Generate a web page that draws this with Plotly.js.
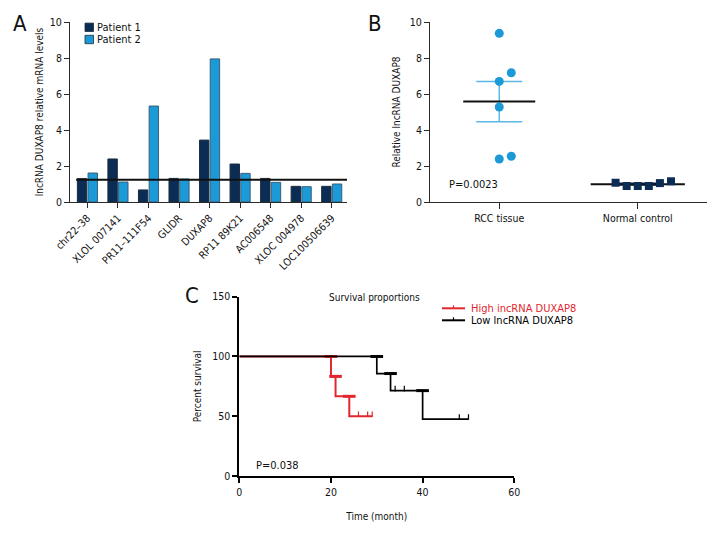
<!DOCTYPE html>
<html>
<head>
<meta charset="utf-8">
<script src="https://cdn.plot.ly/plotly-3.0.1.min.js"></script>
<style>html,body{margin:0;padding:0;background:#fff;}#chart{width:720px;height:540px;}</style>
</head>
<body>
<div id="chart"></div>
<script>
// ---------- Panel A data ----------
const genes = ['chr22–38','XLOL 007141','PR11–111F54','GLIDR','DUXAP8','RP11 89K21','AC006548','XLOC 004978','LOC100506639'];
const patient1 = [1.3, 2.39, 0.67, 1.31, 3.44, 2.11, 1.31, 0.87, 0.87];
const patient2 = [1.61, 1.11, 5.33, 1.28, 7.95, 1.59, 1.09, 0.85, 1.0];
const thresholdA = [1.24];
const seriesNamesA = ['Patient 1', 'Patient 2'];

// ---------- Panel B data ----------
const groupsB = ['RCC tissue', 'Normal control'];
const rccVals = [9.37, 7.18, 6.7, 5.28, 2.39, 2.54];
const rccJitter = [0, 0.087, 0, 0, 0, 0.087];
const normalVals = [1.07, 0.89, 0.89, 0.89, 1.05, 1.15];
const normalJitter = [-0.16, -0.08, 0, 0.08, 0.16, 0.24];
const pTextB = 'P=0.0023';

// ---------- Panel C data ----------
const highTimes = [20, 21, 24, 26, 28, 29];
const highEvents = [1, 1, 1, 0, 0, 0];
const lowTimes = [30, 33, 34, 36, 40, 48, 50];
const lowEvents = [1, 1, 0, 0, 1, 0, 0];
const survNames = ['High incRNA DUXAP8', 'Low lncRNA DUXAP8'];
const pTextC = 'P=0.038';

// ---------- styles ----------
const FONT = "'DejaVu Sans Condensed', 'Liberation Sans Narrow', sans-serif";
const DARK = '#0b2c54';
const LIGHT = '#1b9ad7';
const ERRC = '#5cb8e6';
const RED = '#e3262d';
const AX = '#2a2a2a';
const colorsA = [DARK, LIGHT];
const colorsC = [RED, '#000'];

function kaplanMeier(times, events) {
  const idx = times.map((t, i) => i).sort((a, b) => times[a] - times[b]);
  let atRisk = times.length, s = 100;
  const xs = [0], ys = [100], cx = [], cy = [], ex = [], ey = [];
  idx.forEach(i => {
    if (events[i]) {
      ex.push(times[i]); ey.push(s);
      s = s * (atRisk - 1) / atRisk;
      xs.push(times[i]); ys.push(s);
    } else {
      cx.push(times[i]); cy.push(s);
    }
    atRisk -= 1;
  });
  const last = Math.max(...times);
  if (xs[xs.length - 1] < last) { xs.push(last); ys.push(s); }
  return {xs, ys, cx, cy, ex, ey};
}
function mean(a) { return a.reduce((p, c) => p + c, 0) / a.length; }
function sem(a) {
  const m = mean(a);
  const v = a.reduce((p, c) => p + (c - m) * (c - m), 0) / (a.length - 1);
  return Math.sqrt(v) / Math.sqrt(a.length);
}

const traces = [];
// Panel A bars
traces.push({type: 'bar', x: genes, y: patient1, name: seriesNamesA[0], xaxis: 'x', yaxis: 'y', showlegend: false,
  marker: {color: DARK, line: {color: '#1c2c3c', width: 1}}});
traces.push({type: 'bar', x: genes, y: patient2, name: seriesNamesA[1], xaxis: 'x', yaxis: 'y', showlegend: false,
  marker: {color: LIGHT, line: {color: '#3a5f78', width: 1}}});

// Panel B
const bGroups = [rccVals, normalVals];
const bHalf = [0.26, 0.34];
bGroups.forEach((vals, g) => {
  const m = mean(vals), se = sem(vals);
  traces.push({type: 'scatter', mode: 'markers', x: [g], y: [m], xaxis: 'x2', yaxis: 'y2', showlegend: false,
    marker: {size: 1, opacity: 0}, hoverinfo: 'skip',
    error_y: {type: 'data', array: [se], visible: true, color: g === 0 ? ERRC : DARK, thickness: 1.5, width: 23}});
  traces.push({type: 'scatter', mode: 'markers', x: [g], y: [m], xaxis: 'x2', yaxis: 'y2', showlegend: false,
    marker: {size: 1, opacity: 0}, hoverinfo: 'skip',
    error_x: {type: 'constant', value: bHalf[g], visible: true, color: '#111', thickness: 2, width: 0}});
});
traces.push({type: 'scatter', mode: 'markers', x: rccVals.map((v, i) => 0 + rccJitter[i]), y: rccVals,
  xaxis: 'x2', yaxis: 'y2', showlegend: false, marker: {symbol: 'circle', size: 9, color: LIGHT}});
traces.push({type: 'scatter', mode: 'markers', x: normalVals.map((v, i) => 1 + normalJitter[i]), y: normalVals,
  xaxis: 'x2', yaxis: 'y2', showlegend: false, marker: {symbol: 'square', size: 8, color: DARK}});

// Panel C
const kmHigh = kaplanMeier(highTimes, highEvents);
const kmLow = kaplanMeier(lowTimes, lowEvents);
[[kmHigh, RED, 0, 2], [kmLow, '#000', 1, 1.7]].forEach(([km, col, k, w]) => {
  traces.push({type: 'scatter', mode: 'lines', x: km.xs, y: km.ys, xaxis: 'x3', yaxis: 'y3', showlegend: false,
    name: survNames[k], line: {shape: 'hv', color: col, width: w}});
  traces.push({type: 'scatter', mode: 'markers', x: km.ex, y: km.ey, xaxis: 'x3', yaxis: 'y3', showlegend: false,
    marker: {symbol: 'line-ew', size: 9, line: {color: col, width: 3}}, cliponaxis: false});
  traces.push({type: 'scatter', mode: 'markers', x: km.cx, y: km.cy.map(v => v + 1.7), xaxis: 'x3', yaxis: 'y3', showlegend: false,
    marker: {symbol: 'line-ns', size: 4, line: {color: col, width: 1.2}}});
});

const tickFont = {family: FONT, size: 10.5, color: '#111'};
const titleFont = {family: FONT, size: 10, color: '#111'};
const baseAxis = {showgrid: false, zeroline: false, showline: true, linecolor: AX, linewidth: 1,
  ticks: 'outside', ticklen: 5, tickwidth: 1, tickcolor: AX, tickfont: tickFont, fixedrange: true};

// manual legends (paper coordinates)
const shapes = [
  {type: 'line', xref: 'x domain', yref: 'y', x0: 0.022, x1: 1, y0: thresholdA[0], y1: thresholdA[0],
    line: {color: '#111', width: 2}}
];
const annotations = [];
const P = (px) => px / 720, Q = (py) => 1 - py / 540;
const legAy = [27.3, 39.5];
seriesNamesA.forEach((nm, i) => {
  shapes.push({type: 'rect', xref: 'paper', yref: 'paper', x0: P(85), x1: P(93.5), y0: Q(legAy[i] + 4.2), y1: Q(legAy[i] - 4.2),
    fillcolor: colorsA[i], line: {color: '#1c2c3c', width: 0.8}});
  annotations.push({text: nm, xref: 'paper', yref: 'paper', x: P(95), y: Q(legAy[i]), xanchor: 'left', yanchor: 'middle',
    showarrow: false, font: {family: FONT, size: 11, color: '#111'}});
});
const legCy = [308.3, 320.3];
survNames.forEach((nm, i) => {
  shapes.push({type: 'line', xref: 'paper', yref: 'paper', x0: P(442), x1: P(465), y0: Q(legCy[i]), y1: Q(legCy[i]),
    line: {color: colorsC[i], width: 2}});
  shapes.push({type: 'line', xref: 'paper', yref: 'paper', x0: P(453.5), x1: P(453.5), y0: Q(legCy[i]), y1: Q(legCy[i] - 3),
    line: {color: colorsC[i], width: 1.2}});
  annotations.push({text: nm, xref: 'paper', yref: 'paper', x: P(469), y: Q(legCy[i]), xanchor: 'left', yanchor: 'middle',
    showarrow: false, font: {family: FONT, size: 11, color: colorsC[i]}});
});
annotations.push(
  {text: 'A', xref: 'paper', yref: 'paper', x: P(20), y: Q(23), xanchor: 'center', yanchor: 'middle', showarrow: false, font: {family: FONT, size: 22, color: '#111'}},
  {text: 'B', xref: 'paper', yref: 'paper', x: P(375), y: Q(23), xanchor: 'center', yanchor: 'middle', showarrow: false, font: {family: FONT, size: 22, color: '#111'}},
  {text: 'C', xref: 'paper', yref: 'paper', x: P(192), y: Q(295), xanchor: 'center', yanchor: 'middle', showarrow: false, font: {family: FONT, size: 22, color: '#111'}},
  {text: pTextB, xref: 'paper', yref: 'paper', x: P(447), y: Q(184), xanchor: 'left', yanchor: 'middle', showarrow: false, font: {family: FONT, size: 11, color: '#111'}},
  {text: pTextC, xref: 'paper', yref: 'paper', x: P(254), y: Q(465), xanchor: 'left', yanchor: 'middle', showarrow: false, font: {family: FONT, size: 11, color: '#111'}},
  {text: 'Survival proportions', xref: 'paper', yref: 'paper', x: P(374), y: Q(297), xanchor: 'center', yanchor: 'middle', showarrow: false, font: {family: FONT, size: 10, color: '#111'}}
);

const layout = {
  width: 720, height: 540, margin: {l: 0, r: 0, t: 0, b: 0},
  paper_bgcolor: '#fff', plot_bgcolor: 'rgba(0,0,0,0)', showlegend: false,
  font: {family: FONT, size: 11, color: '#111'},
  barmode: 'group', bargap: 0.3, bargroupgap: 0.12,
  xaxis: Object.assign({}, baseAxis, {domain: [P(70), P(347)], anchor: 'y', type: 'category',
    range: [-0.57, 8.5], tickangle: -45}),
  yaxis: Object.assign({}, baseAxis, {domain: [Q(202), Q(22)], anchor: 'x', range: [0, 10], dtick: 2,
    title: {text: 'lncRNA DUXAP8 relative mRNA levels', font: titleFont, standoff: 4}}),
  xaxis2: Object.assign({}, baseAxis, {domain: [P(430), P(707)], anchor: 'y2', range: [-0.5, 1.5],
    tickvals: [0, 1], ticktext: groupsB, ticklen: 6}),
  yaxis2: Object.assign({}, baseAxis, {domain: [Q(202), Q(22)], anchor: 'x2', range: [0, 10], dtick: 2,
    title: {text: 'Relative lncRNA DUXAP8', font: titleFont, standoff: 7}}),
  xaxis3: Object.assign({}, baseAxis, {domain: [P(239.3), P(514.3)], anchor: 'y3', range: [0, 60], dtick: 20,
    linewidth: 2, tickwidth: 2, linecolor: '#000', tickcolor: '#000',
    title: {text: 'Time (month)', font: titleFont, standoff: 16}}),
  yaxis3: Object.assign({}, baseAxis, {domain: [Q(476), Q(296.7)], anchor: 'x3', range: [0, 150], dtick: 50,
    linewidth: 2, tickwidth: 2, linecolor: '#000', tickcolor: '#000',
    title: {text: 'Percent survival', font: titleFont, standoff: 9}}),
  annotations: annotations,
  shapes: shapes
};

Plotly.newPlot('chart', traces, layout, {staticPlot: true, displayModeBar: false});
</script>
</body>
</html>
